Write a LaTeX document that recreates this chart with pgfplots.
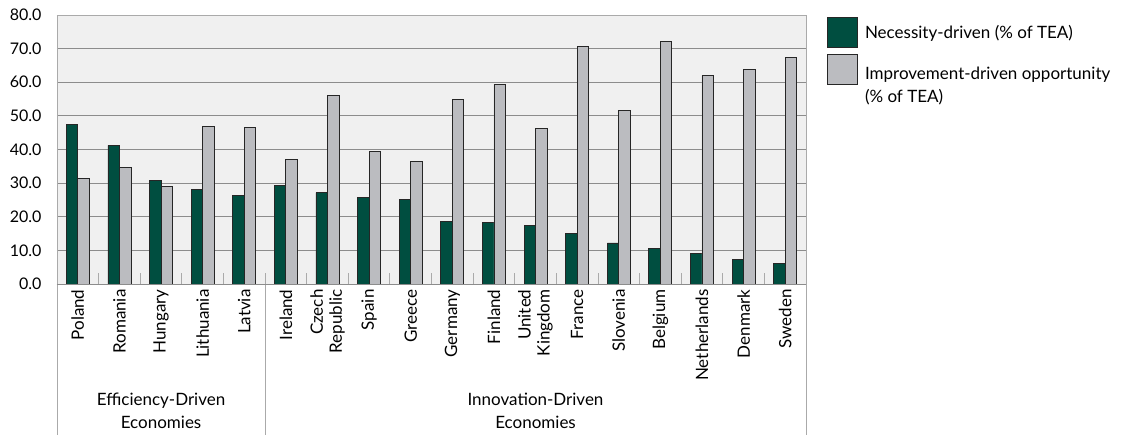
\documentclass[border=0pt]{standalone}
\usepackage{fontspec}
\setmainfont{Lato}
\usepackage{pgfplots}
\usepackage{pgfplotstable}
\pgfplotsset{compat=1.18}
\definecolor{necc}{RGB}{0,78,64}
\definecolor{impr}{RGB}{187,188,192}
\definecolor{bg}{RGB}{240,240,240}
\definecolor{gridc}{RGB}{140,140,140}
\definecolor{framec}{RGB}{170,170,170}

\pgfplotstableread{
x nec imp
0 47.5 31.4
1 41.2 34.6
2 30.9 29.0
3 28.1 46.9
4 26.2 46.5
5 29.3 37.1
6 27.2 56.2
7 25.7 39.4
8 25.1 36.5
9 18.7 55.0
10 18.4 59.3
11 17.3 46.2
12 15.0 70.7
13 12.2 51.5
14 10.7 72.0
15 9.0 62.0
16 7.4 63.9
17 6.2 67.4
}\data

\begin{document}
\begin{tikzpicture}[font=\fontsize{17}{23}\selectfont]
\begin{axis}[name=ax, width=749pt, height=269pt, scale only axis,
 ybar=0pt, bar width=11.5pt,
 xmin=-0.5, xmax=17.5, ymin=0, ymax=80,
 ytick={0,10,...,80},
 /pgf/number format/assume math mode=true,
 y tick label style={font=\fontsize{16}{20}\selectfont, /pgf/number format/fixed, /pgf/number format/fixed zerofill, /pgf/number format/precision=1, xshift=-12pt},
 ymajorgrids, grid style={gridc, line width=0.8pt},
 major tick length=0pt,
 axis background/.style={fill=bg},
 axis line style={framec, line width=0.8pt},
 xtick=data,
 xticklabels={Poland,Romania,Hungary,Lithuania,Latvia,Ireland,{Czech\\Republic},Spain,Greece,Germany,Finland,{United\\Kingdom},France,Slovenia,Belgium,Netherlands,Denmark,Sweden},
 xticklabel style={rotate=90, anchor=east, align=right, xshift=-2pt, font=\fontsize{17}{19}\selectfont},
 xtick pos=bottom,
 extra x ticks={0.5,1.5,...,16.5}, extra x tick labels={},
 extra x tick style={major tick length=11pt, tick align=inside, tick style={framec, line width=0.8pt}, grid=none},
 clip=false,
 legend style={at={(rel axis cs:1,1)}, anchor=north west, xshift=18pt, draw=none, fill=none, row sep=6pt, nodes={align=left, inner xsep=7pt}},
 legend cell align=left,
 legend image code/.code={\draw[#1] (0pt,-15pt) rectangle (30pt,15pt);},
]
\addplot[fill=necc, draw=black!85, line width=0.8pt] table[x=x, y=nec] {\data};
\addlegendentry{Necessity-driven (\% of TEA)}
\addplot[fill=impr, draw=black!85, line width=0.8pt] table[x=x, y=imp] {\data};
\addlegendentry[yshift=-16pt]{Improvement-driven opportunity\\(\% of TEA)}
\draw[framec, line width=0.8pt] (axis cs:-0.5,0) -- ++(0pt,-151pt);
\draw[framec, line width=0.8pt] (axis cs:4.5,0) -- ++(0pt,-151pt);
\draw[framec, line width=0.8pt] (axis cs:17.5,0) -- ++(0pt,-151pt);
\draw[gridc, line width=0.8pt] (axis cs:-0.5,0) -- (axis cs:17.5,0);
\node[align=center] at (axis cs:2,0) [yshift=-127pt] {Efficiency-Driven\\Economies};
\node[align=center] at (axis cs:11,0) [yshift=-127pt] {Innovation-Driven\\Economies};
\end{axis}
\pgfresetboundingbox
\path (ax.south west) ++(-57pt,-151pt) rectangle ++(1125pt,435pt);
\end{tikzpicture}
\end{document}
